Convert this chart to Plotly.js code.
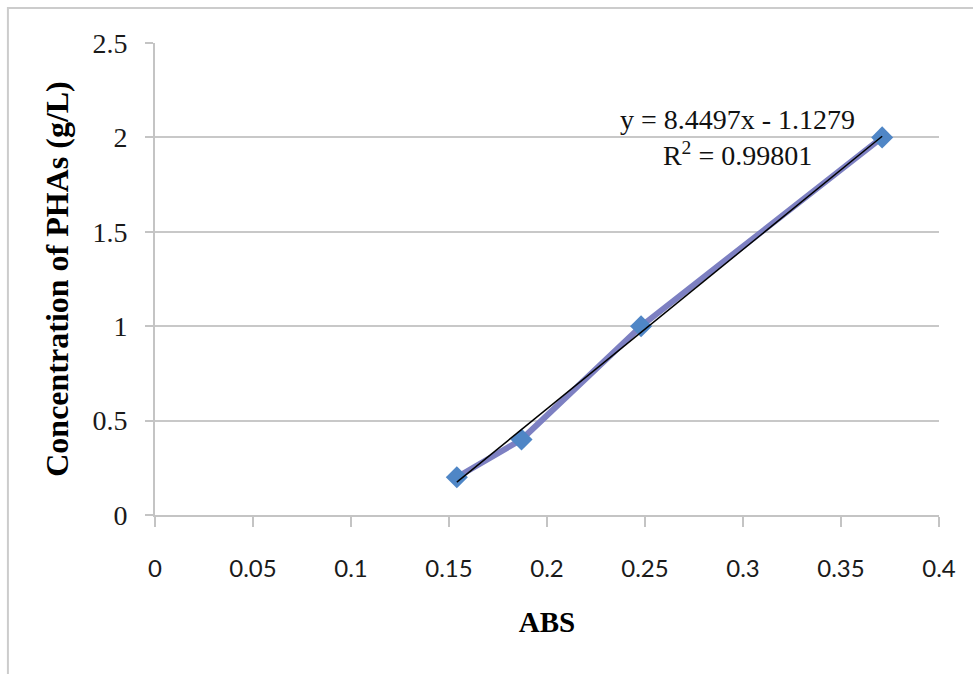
<!DOCTYPE html>
<html>
<head>
<meta charset="utf-8">
<script src="https://cdn.plot.ly/plotly-3.0.1.min.js"></script>
<style>html,body{margin:0;padding:0;background:#fff;}#chart{width:973px;height:674px;}</style>
</head>
<body>
<div id="chart"></div>
<script>
// Data
const absValues = [0.154, 0.187, 0.248, 0.371];
const concValues = [0.2, 0.4, 1.0, 2.0];
const xTickVals = [0, 0.05, 0.1, 0.15, 0.2, 0.25, 0.3, 0.35, 0.4];
const xTickText = ["0", "0.05", "0.1", "0.15", "0.2", "0.25", "0.3", "0.35", "0.4"];
const yTickVals = [0, 0.5, 1, 1.5, 2, 2.5];
const yTickText = ["0", "0.5", "1", "1.5", "2", "2.5"];
const equationText = "y = 8.4497x - 1.1279<br>R<sup>2</sup> = 0.99801";

// Least-squares linear trendline from the data
const n = absValues.length;
const mx = absValues.reduce((a, b) => a + b, 0) / n;
const my = concValues.reduce((a, b) => a + b, 0) / n;
let sxy = 0, sxx = 0;
for (let i = 0; i < n; i++) { sxy += (absValues[i] - mx) * (concValues[i] - my); sxx += (absValues[i] - mx) ** 2; }
const slope = sxy / sxx, intercept = my - slope * mx;
const xMin = Math.min(...absValues), xMax = Math.max(...absValues);
const trendX = [xMin, xMax];
const trendY = trendX.map(x => slope * x + intercept);

const serif = "Liberation Serif, Times New Roman, serif";
const sans = "Lato, Open Sans, sans-serif";

const traces = [
  {
    x: absValues, y: concValues, type: "scatter", mode: "lines+markers",
    line: {color: "#7d80c2", width: 6},
    marker: {symbol: "diamond", size: 17, color: "#4f86c6", line: {width: 0}},
    hoverinfo: "skip", showlegend: false
  },
  {
    x: trendX, y: trendY, type: "scatter", mode: "lines",
    line: {color: "#000000", width: 1.5},
    hoverinfo: "skip", showlegend: false
  }
];

const layout = {
  width: 973, height: 674,
  margin: {l: 155, r: 34, t: 43, b: 159, pad: 0},
  paper_bgcolor: "#ffffff", plot_bgcolor: "#ffffff",
  showlegend: false,
  xaxis: {
    range: [0, 0.4], tickvals: xTickVals, ticktext: xTickText,
    showgrid: false, zeroline: false,
    showline: true, linecolor: "#c4c4c4", linewidth: 2,
    ticks: "outside", ticklen: 10, tickcolor: "#c4c4c4", tickwidth: 2,
    ticklabelstandoff: 21,
    tickfont: {family: sans, size: 24, color: "#1a1a1a"},
    title: {text: "<b>ABS</b>", font: {family: serif, size: 29, color: "#000"}, standoff: 31}
  },
  yaxis: {
    range: [0, 2.5], tickvals: yTickVals, ticktext: yTickText,
    showgrid: true, gridcolor: "#c8c8c8", gridwidth: 2, zeroline: false,
    showline: true, linecolor: "#c4c4c4", linewidth: 2,
    ticks: "outside", ticklen: 8, tickcolor: "#c4c4c4", tickwidth: 2,
    ticklabelstandoff: 12,
    tickfont: {family: serif, size: 28, color: "#1a1a1a"},
    title: {text: "<b>Concentration of PHAs (g/L)</b>", font: {family: serif, size: 32, color: "#000"}, standoff: 14}
  },
  annotations: [{
    xref: "x", yref: "y", x: 0.297, y: 2.0, text: equationText,
    showarrow: false, align: "center", xanchor: "center", yanchor: "middle",
    font: {family: serif, size: 28, color: "#111"}
  }],
  shapes: [{
    type: "rect", xref: "paper", yref: "paper",
    x0: -0.1876, y0: -0.5, x1: 1.2, y1: 1.0742,
    line: {color: "#cccccc", width: 2}, fillcolor: "rgba(0,0,0,0)", layer: "below"
  }]
};

Plotly.newPlot("chart", traces, layout, {displayModeBar: false, staticPlot: true});
</script>
</body>
</html>
